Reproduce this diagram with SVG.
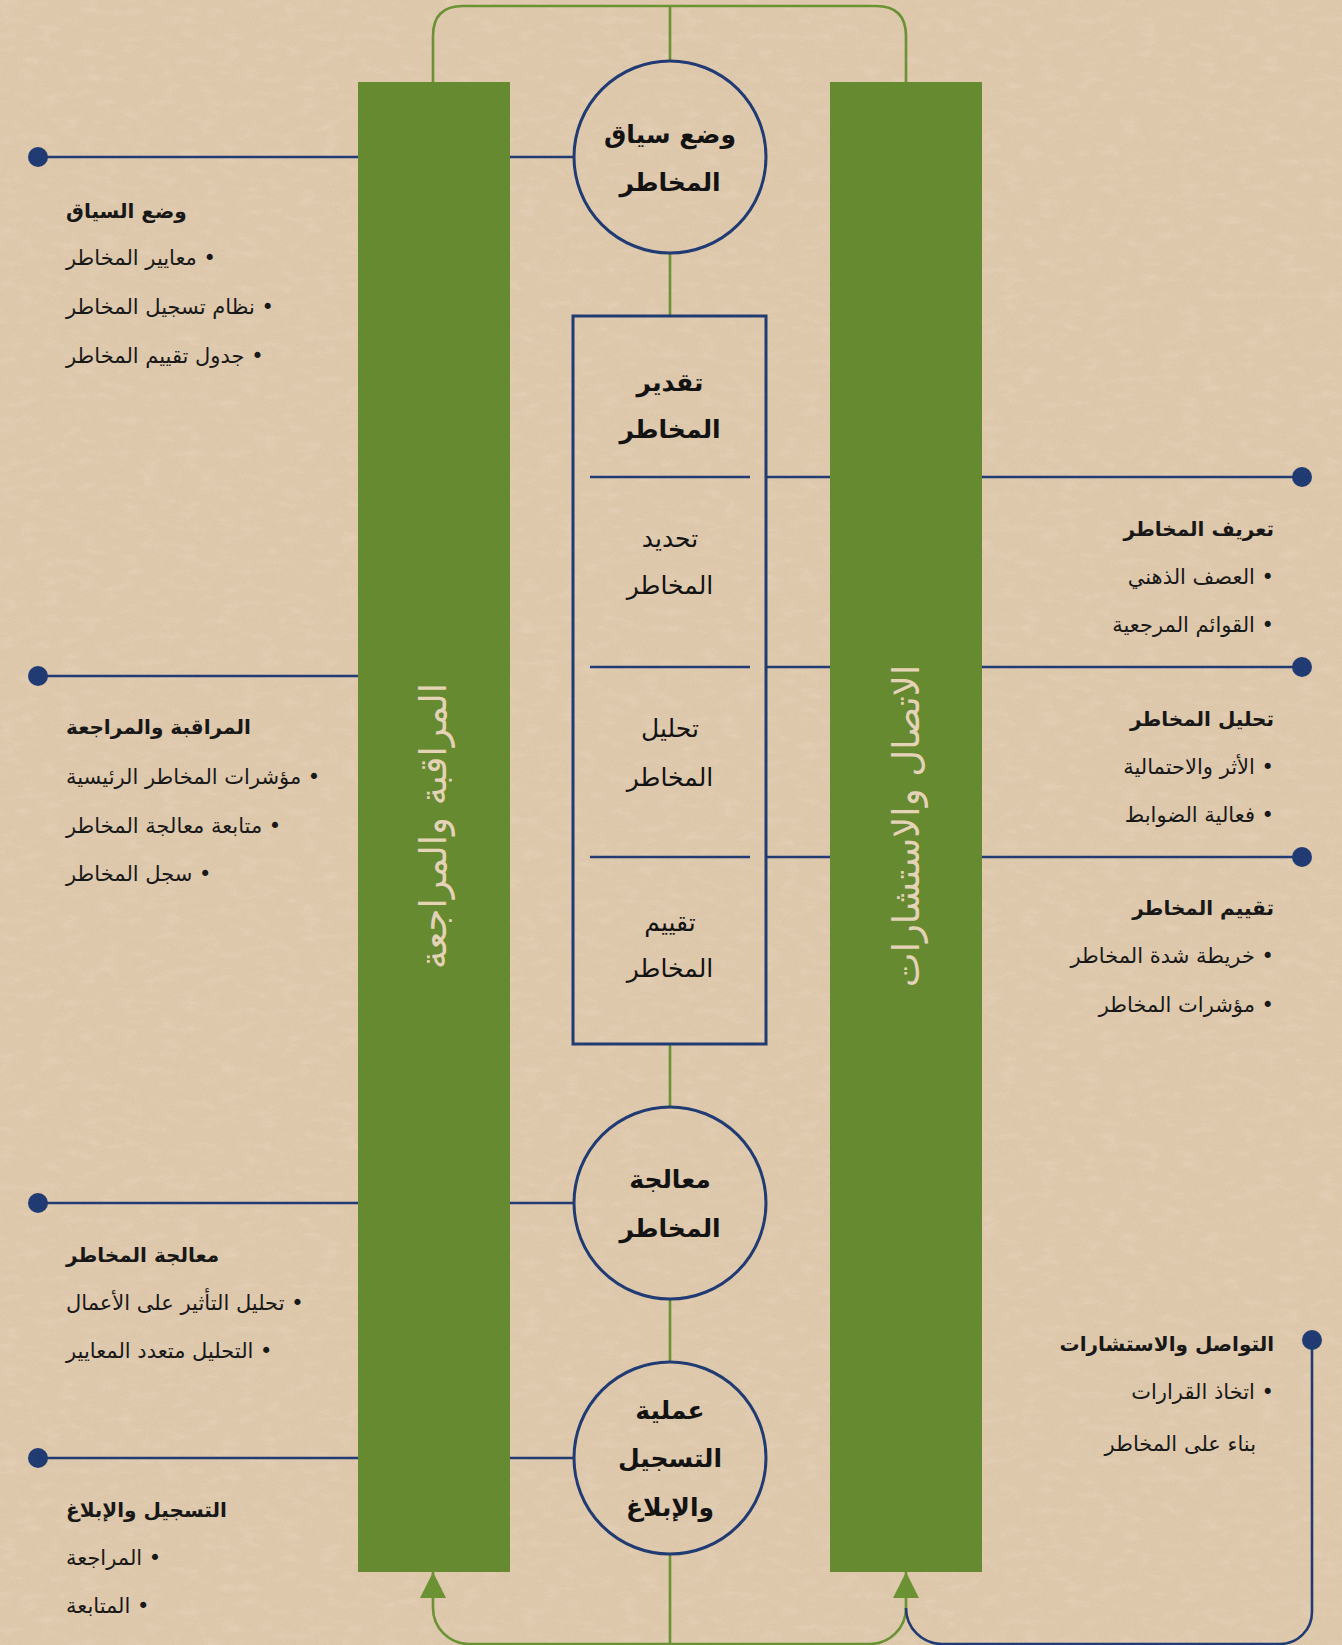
<svg xmlns="http://www.w3.org/2000/svg" width="1342" height="1645" viewBox="0 0 1342 1645">
<defs>
<style>
.bg{fill:#dfc9ad}
.bar{fill:#658a2f}
.bartxt{font-family:"DejaVu Sans",sans-serif;font-size:37px;fill:#e6d4b9}
.nodeln{fill:none;stroke:#1f3a73;stroke-width:3}
.blue{fill:none;stroke:#1f3a73;stroke-width:2.6}
.green{fill:none;stroke:#6a9232;stroke-width:2.6}
.dot{fill:#1f3a73}
.ct{font-family:"DejaVu Sans",sans-serif;font-size:25px;fill:#111;text-anchor:middle}
.b{font-weight:bold}
.lt{font-family:"DejaVu Sans",sans-serif;font-size:21px;fill:#161616;direction:rtl}
.h{font-weight:bold;font-size:20px}
.L{text-anchor:end}
.R{text-anchor:start}
</style>
<marker id="arr" viewBox="0 0 10 10" refX="10" refY="5" markerUnits="userSpaceOnUse" markerWidth="26" markerHeight="29" orient="auto">
<path d="M0,0 L10,5 L0,10 z" fill="#6a9232"/>
</marker>
<filter id="grain" x="0" y="0" width="100%" height="100%">
<feTurbulence type="fractalNoise" baseFrequency="0.9" numOctaves="2" seed="4"/>
<feColorMatrix type="matrix" values="0 0 0 0 0.35  0 0 0 0 0.27  0 0 0 0 0.17  0 0 0 -1.4 0.75"/>
</filter>
<filter id="blotch" x="0" y="0" width="100%" height="100%">
<feTurbulence type="fractalNoise" baseFrequency="0.05 0.12" numOctaves="3" seed="9"/>
<feColorMatrix type="matrix" values="0 0 0 0 0.95  0 0 0 0 0.88  0 0 0 0 0.78  0 0 0 -2.2 1.1"/>
</filter>
</defs>

<rect class="bg" x="0" y="0" width="1342" height="1645"/>
<rect x="0" y="0" width="1342" height="1645" filter="url(#blotch)" opacity="0.18"/>

<g id="bar-monitoring">
<rect class="bar" x="358" y="82" width="152" height="1490"/>
<text class="bartxt" transform="translate(433,826) rotate(-90)" text-anchor="middle" dominant-baseline="central">المراقبة والمراجعة</text>
</g>
<g id="bar-communication">
<rect class="bar" x="830" y="82" width="152" height="1490"/>
<text class="bartxt" transform="translate(906,826) rotate(-90)" text-anchor="middle" dominant-baseline="central">الاتصال والاستشارات</text>
</g>

<g id="connectors">
<path class="green" d="M433,82 V36 Q433,6 463,6 H876 Q906,6 906,36 V82"/>
<path class="green" d="M670,6 V61"/>
<path class="green" d="M670,254 V316"/>
<path class="green" d="M670,1044 V1107"/>
<path class="green" d="M670,1299 V1362"/>
<path class="green" d="M670,1554 V1645"/>
<path class="green" d="M670,1644 H469 A36,36 0 0 1 433,1608 V1572" marker-end="url(#arr)"/>
<path class="green" d="M670,1644 H870 A36,36 0 0 0 906,1608 V1572" marker-end="url(#arr)"/>
<path class="blue" d="M906,1608 A36,36 0 0 0 942,1644 H1280 A32,32 0 0 0 1312,1612 V1340"/>
<circle class="dot" cx="1312" cy="1340" r="10"/>

<path class="blue" d="M38,157 H358 M510,157 H574"/>
<path class="blue" d="M38,676 H358"/>
<path class="blue" d="M38,1203 H358 M510,1203 H574"/>
<path class="blue" d="M38,1458 H358 M510,1458 H574"/>
<path class="blue" d="M766,477 H830 M982,477 H1302"/>
<path class="blue" d="M766,667 H830 M982,667 H1302"/>
<path class="blue" d="M766,857 H830 M982,857 H1302"/>
<circle class="dot" cx="38" cy="157" r="10"/>
<circle class="dot" cx="38" cy="676" r="10"/>
<circle class="dot" cx="38" cy="1203" r="10"/>
<circle class="dot" cx="38" cy="1458" r="10"/>
<circle class="dot" cx="1302" cy="477" r="10"/>
<circle class="dot" cx="1302" cy="667" r="10"/>
<circle class="dot" cx="1302" cy="857" r="10"/>
</g>

<g id="node-context">
<circle class="nodeln" cx="670" cy="157" r="96"/>
<text class="ct b" x="670" y="143">وضع سياق</text>
<text class="ct b" x="670" y="191">المخاطر</text>
</g>

<g id="node-assessment">
<rect class="nodeln" x="573" y="316" width="193" height="728"/>
<path class="blue" d="M590,477 H750 M590,667 H750 M590,857 H750"/>
<text class="ct b" x="670" y="391">تقدير</text>
<text class="ct b" x="670" y="438">المخاطر</text>
</g>
<g id="node-identify">
<text class="ct" x="670" y="547">تحديد</text>
<text class="ct" x="670" y="594">المخاطر</text>
</g>
<g id="node-analysis">
<text class="ct" x="670" y="737">تحليل</text>
<text class="ct" x="670" y="786">المخاطر</text>
</g>
<g id="node-evaluation">
<text class="ct" x="670" y="931">تقييم</text>
<text class="ct" x="670" y="977">المخاطر</text>
</g>

<g id="node-treatment">
<circle class="nodeln" cx="670" cy="1203" r="96"/>
<text class="ct b" x="670" y="1188">معالجة</text>
<text class="ct b" x="670" y="1237">المخاطر</text>
</g>

<g id="node-reporting">
<circle class="nodeln" cx="670" cy="1458" r="96"/>
<text class="ct b" x="670" y="1419">عملية</text>
<text class="ct b" x="670" y="1467">التسجيل</text>
<text class="ct b" x="670" y="1516">والإبلاغ</text>
</g>

<g id="list-context">
<text class="lt L h" x="66" y="218">وضع السياق</text>
<text class="lt L" x="66" y="265">• معايير المخاطر</text>
<text class="lt L" x="66" y="314">• نظام تسجيل المخاطر</text>
<text class="lt L" x="66" y="363">• جدول تقييم المخاطر</text>
</g>
<g id="list-monitoring">
<text class="lt L h" x="66" y="734">المراقبة والمراجعة</text>
<text class="lt L" x="66" y="784">• مؤشرات المخاطر الرئيسية</text>
<text class="lt L" x="66" y="833">• متابعة معالجة المخاطر</text>
<text class="lt L" x="66" y="881">• سجل المخاطر</text>
</g>
<g id="list-treatment">
<text class="lt L h" x="66" y="1262">معالجة المخاطر</text>
<text class="lt L" x="66" y="1310">• تحليل التأثير على الأعمال</text>
<text class="lt L" x="66" y="1358">• التحليل متعدد المعايير</text>
</g>
<g id="list-reporting">
<text class="lt L h" x="66" y="1517">التسجيل والإبلاغ</text>
<text class="lt L" x="66" y="1565">• المراجعة</text>
<text class="lt L" x="66" y="1613">• المتابعة</text>
</g>

<g id="list-identify">
<text class="lt R h" x="1274" y="536">تعريف المخاطر</text>
<text class="lt R" x="1274" y="584">• العصف الذهني</text>
<text class="lt R" x="1274" y="632">• القوائم المرجعية</text>
</g>
<g id="list-analysis">
<text class="lt R h" x="1274" y="726">تحليل المخاطر</text>
<text class="lt R" x="1274" y="774">• الأثر والاحتمالية</text>
<text class="lt R" x="1274" y="822">• فعالية الضوابط</text>
</g>
<g id="list-evaluation">
<text class="lt R h" x="1274" y="915">تقييم المخاطر</text>
<text class="lt R" x="1274" y="963">• خريطة شدة المخاطر</text>
<text class="lt R" x="1274" y="1012">• مؤشرات المخاطر</text>
</g>
<g id="list-communication">
<text class="lt R h" x="1274" y="1351">التواصل والاستشارات</text>
<text class="lt R" x="1274" y="1399">• اتخاذ القرارات</text>
<text class="lt R" x="1256" y="1451">بناء على المخاطر</text>
</g>

<rect x="0" y="0" width="1342" height="1645" filter="url(#grain)" opacity="0.18" pointer-events="none"/>
</svg>
